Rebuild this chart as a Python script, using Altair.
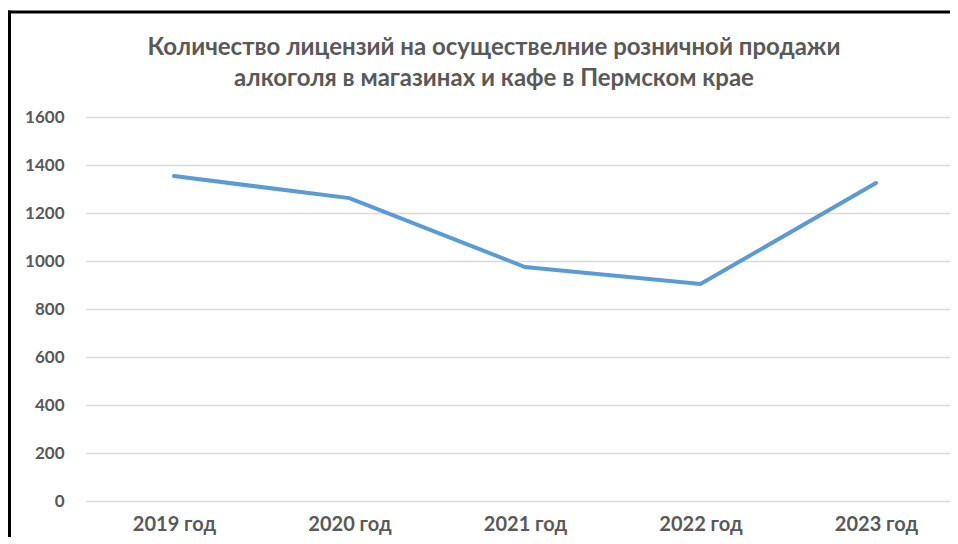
import altair as alt
import pandas as pd

years = ["2019 год", "2020 год", "2021 год", "2022 год", "2023 год"]
licenses = [1354, 1262, 975, 904, 1325]
title_lines = ["Количество лицензий на осуществелние розничной продажи",
               "алкоголя в магазинах и кафе в Пермском крае"]

df = pd.DataFrame({"year": years, "value": licenses})

FONT = "Lato"
GREY = "#595959"
W, H = 864, 384

x_enc = alt.X("year:N", sort=years,
              scale=alt.Scale(type="point", padding=0.4615, align=0.543),
              axis=alt.Axis(title=None, labelAngle=0, domain=False, ticks=False,
                            labelFont=FONT, labelFontSize=20, labelFontWeight="bold",
                            labelColor=GREY, labelPadding=13, grid=False))
y_enc = alt.Y("value:Q",
              scale=alt.Scale(domain=[0, 1600], nice=False),
              axis=alt.Axis(title=None, values=list(range(0, 1601, 200)), format="d",
                            domain=False, ticks=False, labelFont=FONT, labelFontSize=17,
                            labelFontWeight="bold", labelColor=GREY, labelPadding=22,
                            gridColor="#d9d9d9", gridWidth=1.3))

line = alt.Chart(df).mark_line(color="#5B9BD5", strokeWidth=4, strokeCap="round").encode(
    x=x_enc, y=y_enc)

title = alt.Chart(df.head(1)).mark_text(
    font=FONT, fontSize=24, fontWeight="bold", color=GREY, align="center",
    baseline="alphabetic", lineHeight=31
).encode(x=alt.value(408), y=alt.value(-62), text=alt.value(title_lines))

top_border = alt.Chart(df.head(1)).mark_rule(color="black", strokeWidth=3).encode(
    x=alt.value(-78), x2=alt.value(W), y=alt.value(-105))
left_border = alt.Chart(df.head(1)).mark_rule(color="black", strokeWidth=3).encode(
    x=alt.value(-76.5), y=alt.value(-106.5), y2=alt.value(430))

chart = alt.layer(line, title, top_border, left_border).properties(
    width=W, height=H,
    autosize=alt.AutoSizeParams(type="none"),
    padding={"left": 78, "top": 109, "right": 0, "bottom": 36},
).configure(background="white").configure_view(stroke=None)

chart.save("out.html", embed_options={"renderer": "svg", "actions": False})
